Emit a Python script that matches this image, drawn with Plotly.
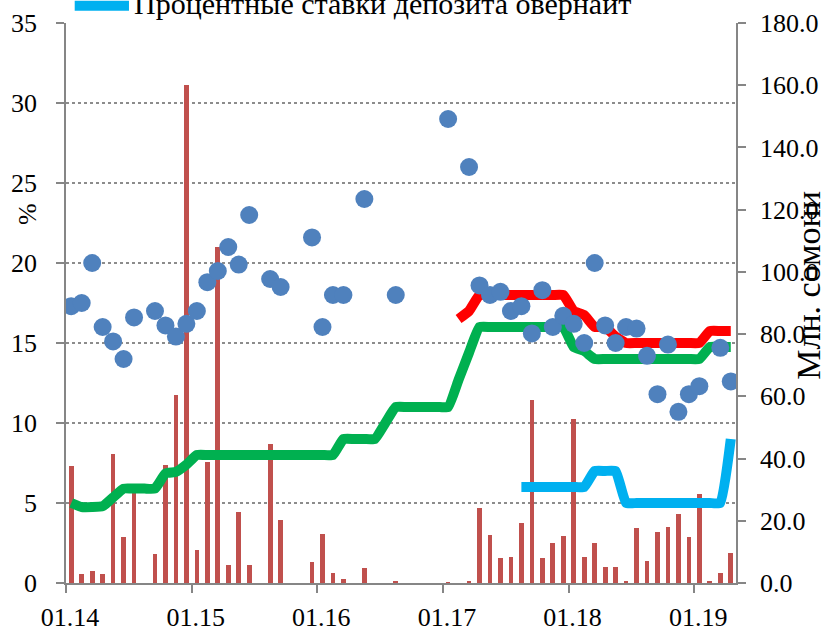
import plotly.graph_objects as go

# ---- data (monthly, Jan 2014 .. Apr 2019) ----
months = [f"{m:02d}.{y:02d}" for y in range(14, 20) for m in range(1, 13)][:64]
tick_labels = ["01.14", "01.15", "01.16", "01.17", "01.18", "01.19"]

# volume, mln somoni (right axis)
volume = [37.5, 3.0, 3.7, 2.9, 41.5, 14.8, 31.9, 0, 9.4, 37.8, 60.5, 160.2, 10.7,
          38.9, 108.0, 5.9, 22.8, 5.9, 0, 44.8, 20.3, 0, 0, 6.7, 15.8, 3.2,
          1.3, 0, 4.7, 0, 0, 0.4, 0, 0, 0, 0, 0.3, 0, 0.7,
          24.1, 15.5, 8.0, 8.4, 19.3, 58.9, 8.0, 12.9, 15.2, 52.7, 8.4, 12.9, 5.3,
          5.1, 0.8, 17.7, 7.2, 16.5, 17.9, 22.3, 14.8, 28.7, 0.8, 3.1, 9.5]

# interest rates, % (left axis)
rates_dots = [17.3, 17.5, 20.0, 16.0, 15.1, 14.0, 16.6, None, 17.0, 16.1, 15.4, 16.2, 17.0,
              18.8, 19.5, 21.0, 19.9, 23.0, None, 19.0, 18.5, None, None, 21.6, 16.0, 18.0,
              18.0, None, 24.0, None, None, 18.0, None, None, None, None, 29.0, None, 26.0,
              18.6, 18.0, 18.2, 17.0, 17.3, 15.6, 18.3, 16.0, 16.7, 16.2, 15.0, 20.0, 16.1,
              15.0, 16.0, 15.9, 14.2, 11.8, 14.9, 10.7, 11.8, 12.3, None, 14.7, 12.6]

green_rate = [5.0, 4.75, 4.75, 4.8, 5.35, 5.9, 5.9, 5.9, 5.9, 6.85, 6.95, 7.4, 8.0,
              8.0, 8.0, 8.0, 8.0, 8.0, 8.0, 8.0, 8.0, 8.0, 8.0, 8.0, 8.0, 8.0,
              9.0, 9.0, 9.0, 9.0, 10.0, 11.0, 11.0, 11.0, 11.0, 11.0, 11.0, 12.7, 14.4,
              16.0, 16.0, 16.0, 16.0, 16.0, 16.0, 16.0, 16.0, 16.0, 14.75, 14.5, 14.0, 14.0,
              14.0, 14.0, 14.0, 14.0, 14.0, 14.0, 14.0, 14.0, 14.0, 14.75, 14.75, 14.75]

red_rate = [None] * 37 + [16.5, 17.0,
            18.0, 18.0, 18.0, 18.0, 18.0, 18.0, 18.0, 18.0, 18.0, 17.0, 16.75, 16.0, 16.0,
            15.4, 15.0, 15.0, 15.0, 15.0, 15.0, 15.0, 15.0, 15.0, 15.75, 15.75, 15.75]

overnight_rate = [None] * 43 + [6.0, 6.0, 6.0, 6.0, 6.0, 6.0, 6.0, 7.0, 7.0,
                                7.0, 5.0, 5.0, 5.0, 5.0, 5.0, 5.0, 5.0, 5.0, 5.0, 5.0, 9.0]

x = list(range(len(months)))
FONT = "Liberation Serif, Times New Roman, serif"

fig = go.Figure()
fig.add_trace(go.Bar(x=x, y=volume, yaxis="y", marker_color="#C0504D",
                     marker_line_width=0, width=0.45, showlegend=False, name="Объём"))
fig.add_trace(go.Scatter(x=x, y=green_rate, yaxis="y2", mode="lines",
                         line=dict(color="#00B050", width=10, shape="spline", smoothing=0.4),
                         showlegend=False, name="green"))
fig.add_trace(go.Scatter(x=x, y=red_rate, yaxis="y2", mode="lines",
                         line=dict(color="#FF0000", width=10, shape="spline", smoothing=0.4),
                         showlegend=False, name="red"))
fig.add_trace(go.Scatter(x=x, y=overnight_rate, yaxis="y2", mode="lines",
                         line=dict(color="#00B0F0", width=10, shape="spline", smoothing=0.4),
                         showlegend=False, name="Процентные ставки депозита овернайт"))
fig.add_trace(go.Scatter(x=x, y=rates_dots, yaxis="y2", mode="markers",
                         marker=dict(color="#4F81BD", size=18, line=dict(width=0)),
                         showlegend=False, name="dots"))

axis_col = "#868686"
fig.update_layout(
    width=838, height=632,
    margin=dict(l=66, r=102, t=23, b=49, autoexpand=False),
    paper_bgcolor="white", plot_bgcolor="white",
    font=dict(family=FONT, size=26, color="black"),
    bargap=0,
    xaxis=dict(range=[-0.5, 63.5], tickmode="array",
               tickvals=[i * 12 - 0.5 for i in range(len(tick_labels))],
               ticktext=tick_labels, ticks="outside", ticklen=8, tickcolor=axis_col,
               tickwidth=1.5, showline=True, linecolor=axis_col, linewidth=1.5,
               showgrid=False, zeroline=False, ticklabelstandoff=2, ticklabelshift=4,
               tickfont=dict(family=FONT, size=26)),
    yaxis=dict(side="right", range=[0, 180], dtick=20, tickformat=".1f",
               ticks="outside", ticklen=8, tickcolor=axis_col, tickwidth=1.5,
               showline=True, linecolor=axis_col, linewidth=1.5, showgrid=False,
               zeroline=False, ticklabelstandoff=9,
               tickfont=dict(family=FONT, size=26)),
    yaxis2=dict(side="left", overlaying="y", range=[0, 35], dtick=5,
                ticks="outside", ticklen=8, tickcolor=axis_col, tickwidth=1.5,
                showline=True, linecolor=axis_col, linewidth=1.5, showgrid=True,
                gridcolor="#8C8C8C", griddash="dot", gridwidth=1.5,
                zeroline=False, ticklabelstandoff=14,
                tickfont=dict(family=FONT, size=26)),
)

# legend entry (partially cut at the top, as in the original)
fig.add_shape(type="line", xref="paper", yref="paper", x0=0.013, x1=0.094,
              y0=1.031, y1=1.031, line=dict(color="#00B0F0", width=10))
fig.add_annotation(xref="paper", yref="paper", x=0.099, y=1.035, xanchor="left",
                   yanchor="middle", showarrow=False,
                   text="Процентные ставки депозита овернайт",
                   font=dict(family=FONT, size=30))

# axis titles
fig.add_annotation(xref="paper", yref="paper", x=-0.0574, y=0.658, showarrow=False,
                   xanchor="center", yanchor="middle",
                   text="%", textangle=-90, font=dict(family=FONT, size=26))
fig.add_annotation(xref="paper", yref="paper", x=1.107, y=0.532, showarrow=False,
                   xanchor="center", yanchor="middle",
                   text="Млн. сомони", textangle=-90, font=dict(family=FONT, size=34))

fig.write_html("out.html", config={"displayModeBar": False},
               post_script="document.body.style.margin='0px';")
